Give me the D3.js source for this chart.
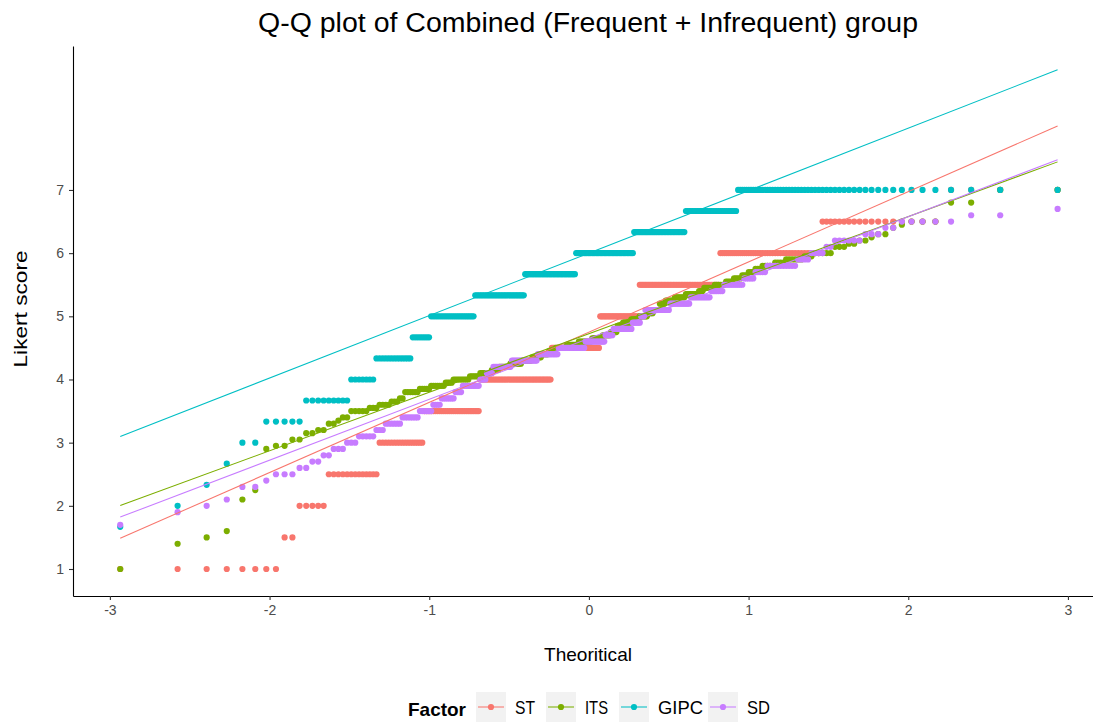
<!DOCTYPE html>
<html>
<head>
<meta charset="utf-8">
<script src="https://cdn.jsdelivr.net/npm/d3@7"></script>
<style>
  html, body { margin: 0; padding: 0; background: #ffffff; }
  svg { display: block; font-family: "Liberation Sans", Arial, sans-serif; }
</style>
</head>
<body>
<svg id="chart" width="1093" height="722"></svg>
<script>
// ---------------- data (distinct sorted values and how many respondents had each) ----------------
const groups = ["ST", "ITS", "GIPC", "SD"];
const colors = ["#F8766D", "#7CAE00", "#00BFC4", "#C77CFF"];

const stValues = [1, 1.5, 2, 2.5, 3, 3.5, 4, 4.5, 5, 5.5, 6, 6.5, 7];
const stCounts = [8, 2, 5, 13, 17, 29, 48, 36, 29, 51, 40, 18, 4];

const itsValues = [1, 1.4, 1.5, 1.6, 2.1, 2.25, 2.9, 2.95, 3.05, 3.15, 3.2, 3.3, 3.35, 3.4, 3.5, 3.55, 3.6, 3.65, 3.7, 3.8, 3.85, 3.9, 3.95, 4,
  4.05, 4.1, 4.15, 4.2, 4.25, 4.3, 4.35, 4.4, 4.45, 4.5, 4.55, 4.6, 4.65, 4.7, 4.75, 4.85, 4.9, 4.95, 5, 5.05, 5.1, 5.2, 5.25, 5.3, 5.35, 5.4,
  5.45, 5.5, 5.55, 5.6, 5.65, 5.7, 5.75, 5.8, 5.85, 5.9, 5.95, 6, 6.1, 6.15, 6.2, 6.25, 6.3, 6.4, 6.45, 6.5, 6.8, 7];
const itsCounts = [1, 1, 1, 1, 1, 1, 1, 2, 2, 2, 2, 2, 1, 2, 5, 3, 4, 3, 2, 6, 5, 7, 4, 9,
  6, 7, 5, 7, 8, 7, 7, 5, 5, 8, 9, 10, 8, 6, 5, 4, 6, 6, 6, 4, 4, 4, 6, 7, 8, 3,
  6, 6, 4, 4, 3, 3, 3, 5, 4, 6, 3, 5, 3, 2, 2, 1, 2, 1, 1, 3, 2, 2];

const gipcValues = [1.667, 2, 2.333, 2.667, 3, 3.333, 3.667, 4, 4.333, 4.667, 5, 5.333, 5.667, 6, 6.333, 6.667, 7];
const gipcCounts = [1, 1, 1, 1, 2, 5, 9, 7, 13, 8, 23, 32, 37, 43, 35, 29, 53];

const sdValues = [1.7, 1.9, 2, 2.1, 2.3, 2.4, 2.5, 2.6, 2.7, 2.8, 2.9, 3, 3.1, 3.2, 3.3, 3.4, 3.5, 3.6, 3.7, 3.8, 3.9, 4,
  4.1, 4.2, 4.3, 4.4, 4.5, 4.6, 4.7, 4.8, 4.9, 5, 5.1, 5.2, 5.3, 5.4, 5.5, 5.6, 5.7, 5.8, 5.9, 6, 6.1, 6.2, 6.3, 6.4, 6.5, 6.6, 6.7];
const sdCounts = [1, 1, 1, 1, 2, 1, 3, 2, 2, 2, 3, 3, 5, 3, 6, 7, 6, 4, 7, 4, 10, 4,
  4, 12, 18, 15, 20, 15, 6, 14, 6, 3, 17, 13, 12, 7, 10, 5, 5, 11, 4, 4, 2, 6, 3, 2, 5, 2, 1];

const xTicks = [-3, -2, -1, 0, 1, 2, 3];
const yTicks = [1, 2, 3, 4, 5, 6, 7];

const titleText = "Q-Q plot of Combined (Frequent + Infrequent) group";
const xLabel = "Theoritical";
const yLabel = "Likert score";
const legendTitle = "Factor";

// ---------------- helpers ----------------
// inverse standard normal CDF (Acklam)
function qnorm(p) {
  const a = [-3.969683028665376e+01, 2.209460984245205e+02, -2.759285104469687e+02, 1.383577518672690e+02, -3.066479806614716e+01, 2.506628277459239e+00];
  const b = [-5.447609879822406e+01, 1.615858368580409e+02, -1.556989798598866e+02, 6.680131188771972e+01, -1.328068155288572e+01];
  const c = [-7.784894002430293e-03, -3.223964580411365e-01, -2.400758277161838e+00, -2.549732539343734e+00, 4.374664141464968e+00, 2.938163982698783e+00];
  const d = [7.784695709041462e-03, 3.224671290700398e-01, 2.445134137142996e+00, 3.754408661907416e+00];
  const pl = 0.02425, ph = 1 - pl;
  let q, r;
  if (p < pl) {
    q = Math.sqrt(-2 * Math.log(p));
    return (((((c[0]*q+c[1])*q+c[2])*q+c[3])*q+c[4])*q+c[5]) / ((((d[0]*q+d[1])*q+d[2])*q+d[3])*q+1);
  } else if (p <= ph) {
    q = p - 0.5; r = q * q;
    return (((((a[0]*r+a[1])*r+a[2])*r+a[3])*r+a[4])*r+a[5])*q / (((((b[0]*r+b[1])*r+b[2])*r+b[3])*r+b[4])*r+1);
  } else {
    q = Math.sqrt(-2 * Math.log(1 - p));
    return -(((((c[0]*q+c[1])*q+c[2])*q+c[3])*q+c[4])*q+c[5]) / ((((d[0]*q+d[1])*q+d[2])*q+d[3])*q+1);
  }
}
function expand(values, counts) {
  const out = [];
  values.forEach((v, i) => { for (let k = 0; k < counts[i]; k++) out.push(v); });
  return out.sort((a, b) => a - b);
}
function qqData(sample) {
  const n = sample.length;
  const pts = sample.map((v, i) => ({ x: qnorm((i + 1 - 0.5) / n), y: v }));
  const q1 = d3.quantileSorted(sample, 0.25), q3 = d3.quantileSorted(sample, 0.75);
  const z1 = qnorm(0.25), z3 = qnorm(0.75);
  const slope = (q3 - q1) / (z3 - z1);
  const intercept = q1 - slope * z1;
  const x0 = pts[0].x, x1 = pts[n - 1].x;
  return { pts, line: [{ x: x0, y: intercept + slope * x0 }, { x: x1, y: intercept + slope * x1 }] };
}

const samples = [
  expand(stValues, stCounts),
  expand(itsValues, itsCounts),
  expand(gipcValues, gipcCounts),
  expand(sdValues, sdCounts)
];
const qq = samples.map(qqData);

// ---------------- layout ----------------
const svg = d3.select("#chart");
const panel = { left: 73, right: 1093, top: 46, bottom: 596 };
const x = d3.scaleLinear().domain([-3.231, 3.157]).range([panel.left, panel.right]);
const y = d3.scaleLinear().domain([0.5726, 9.279]).range([panel.bottom, panel.top]);

// points
groups.forEach((g, gi) => {
  svg.append("g").selectAll("circle").data(qq[gi].pts).join("circle")
    .attr("cx", d => x(d.x)).attr("cy", d => y(d.y)).attr("r", 3.1)
    .attr("fill", colors[gi]);
});
// qq lines
const lineGen = d3.line().x(d => x(d.x)).y(d => y(d.y));
groups.forEach((g, gi) => {
  svg.append("path").attr("d", lineGen(qq[gi].line))
    .attr("fill", "none").attr("stroke", colors[gi]).attr("stroke-width", 1.05);
});

// axes
const fmt = d => String(d);
const xAxis = d3.axisBottom(x).tickValues(xTicks).tickSize(4).tickSizeOuter(0).tickPadding(5).tickFormat(fmt);
const yAxis = d3.axisLeft(y).tickValues(yTicks).tickSize(4).tickSizeOuter(0).tickPadding(5).tickFormat(fmt);
const gx = svg.append("g").attr("transform", `translate(0,${panel.bottom})`).call(xAxis);
const gy = svg.append("g").attr("transform", `translate(${panel.left},0)`).call(yAxis);
[gx, gy].forEach(g => {
  g.select(".domain").attr("stroke", "#000").attr("stroke-width", 1.1);
  g.selectAll(".tick line").attr("stroke", "#333333").attr("stroke-width", 1.1);
  g.selectAll(".tick text").attr("fill", "#4D4D4D").style("font-size", "14px")
    .style("font-family", "'Liberation Sans', Arial, sans-serif");
});

// title and axis titles
svg.append("text").attr("x", 588).attr("y", 32).attr("text-anchor", "middle")
  .attr("textLength", 660).attr("lengthAdjust", "spacingAndGlyphs")
  .style("font-size", "27px").attr("fill", "#000").text(titleText);
svg.append("text").attr("x", 588).attr("y", 661).attr("text-anchor", "middle")
  .attr("textLength", 88).attr("lengthAdjust", "spacingAndGlyphs")
  .style("font-size", "19px").attr("fill", "#000").text(xLabel);
svg.append("text").attr("transform", "translate(27,309) rotate(-90)").attr("text-anchor", "middle")
  .attr("textLength", 117).attr("lengthAdjust", "spacingAndGlyphs")
  .style("font-size", "18px").attr("fill", "#000").text(yLabel);

// legend
const legend = svg.append("g");
legend.append("text").attr("x", 408).attr("y", 716).style("font-size", "19px").style("font-weight", "bold")
  .attr("textLength", 58).attr("lengthAdjust", "spacingAndGlyphs")
  .attr("fill", "#000").text(legendTitle);
const keyX = [476, 546, 619, 708];
const labelW = [20, 23, 45, 23];
groups.forEach((g, gi) => {
  const kx = keyX[gi];
  legend.append("rect").attr("x", kx).attr("y", 692).attr("width", 30).attr("height", 30).attr("fill", "#F2F2F2");
  legend.append("line").attr("x1", kx + 2).attr("x2", kx + 28).attr("y1", 707).attr("y2", 707)
    .attr("stroke", colors[gi]).attr("stroke-width", 1.05);
  legend.append("circle").attr("cx", kx + 15).attr("cy", 707).attr("r", 3.1).attr("fill", colors[gi]);
  legend.append("text").attr("x", kx + 39).attr("y", 714).style("font-size", "18px")
    .attr("textLength", labelW[gi]).attr("lengthAdjust", "spacingAndGlyphs")
    .attr("fill", "#000").text(g);
});
</script>
</body>
</html>
